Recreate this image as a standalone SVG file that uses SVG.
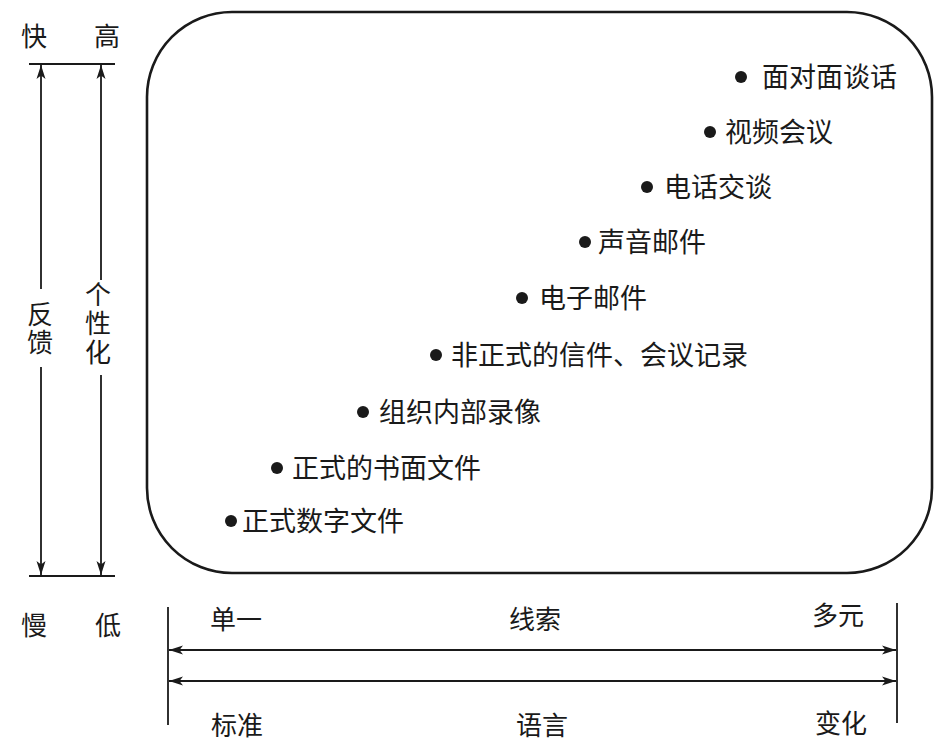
<svg xmlns="http://www.w3.org/2000/svg" width="945" height="754" viewBox="0 0 945 754">
  <style>
    text { font-family: "Noto Sans CJK SC", "Noto Sans", sans-serif; fill: #1a1a1a; }
    .item { font-size: 27px; }
    .axis { font-size: 26px; text-anchor: middle; }
    .vert { font-size: 26px; writing-mode: vertical-rl; }
    .dot { fill: #1a1a1a; }
    .ln { stroke: #1a1a1a; stroke-width: 1.8; fill: none; }
    .frame { stroke: #1a1a1a; stroke-width: 2.6; fill: none; }
  </style>
  <defs>
    <marker id="arrow" markerWidth="14" markerHeight="10" refX="14" refY="5" orient="auto-start-reverse" markerUnits="userSpaceOnUse">
      <path d="M0,0.5 L14,5 L0,9.5 L3.5,5 z" fill="#1a1a1a"/>
    </marker>
  </defs>

  <!-- rounded frame holding the channels -->
  <rect class="frame" x="147" y="12" width="785" height="561" rx="85" ry="85"/>

  <!-- vertical scales: feedback and personalisation -->
  <g id="scale-vertical">
    <line class="ln" x1="29" y1="64" x2="115" y2="64"/>
    <line class="ln" x1="29" y1="576" x2="115" y2="576"/>
    <line class="ln" x1="41" y1="289" x2="41" y2="65" marker-end="url(#arrow)"/>
    <line class="ln" x1="41" y1="367" x2="41" y2="575" marker-end="url(#arrow)"/>
    <line class="ln" x1="101" y1="280" x2="101" y2="65" marker-end="url(#arrow)"/>
    <line class="ln" x1="101" y1="375" x2="101" y2="575" marker-end="url(#arrow)"/>
    <text class="axis" x="34" y="46">快</text>
    <text class="axis" x="107" y="46">高</text>
    <text class="axis" x="34" y="635">慢</text>
    <text class="axis" x="108" y="635">低</text>
    <text class="vert" x="40" y="301" letter-spacing="2">反馈</text>
    <text class="vert" x="98" y="281" letter-spacing="3">个性化</text>
  </g>

  <!-- horizontal scales: cues and language -->
  <g id="scale-horizontal">
    <line class="ln" x1="168" y1="607" x2="168" y2="725"/>
    <line class="ln" x1="897" y1="603" x2="897" y2="723"/>
    <line class="ln" x1="169" y1="650" x2="896" y2="650" marker-start="url(#arrow)" marker-end="url(#arrow)"/>
    <line class="ln" x1="169" y1="681" x2="896" y2="681" marker-start="url(#arrow)" marker-end="url(#arrow)"/>
    <text class="axis" x="236" y="629">单一</text>
    <text class="axis" x="535" y="629">线索</text>
    <text class="axis" x="838" y="625">多元</text>
    <text class="axis" x="237" y="735">标准</text>
    <text class="axis" x="542" y="735">语言</text>
    <text class="axis" x="841" y="733">变化</text>
  </g>

  <!-- communication channels, richest at the top -->
  <g id="ch-face"><circle class="dot" cx="741" cy="77" r="6"/><text class="item" x="762" y="87">面对面谈话</text></g>
  <g id="ch-video"><circle class="dot" cx="710" cy="132" r="6"/><text class="item" x="725" y="142">视频会议</text></g>
  <g id="ch-phone"><circle class="dot" cx="647" cy="187" r="6"/><text class="item" x="664" y="197">电话交谈</text></g>
  <g id="ch-voicemail"><circle class="dot" cx="585" cy="242" r="6"/><text class="item" x="598" y="252">声音邮件</text></g>
  <g id="ch-email"><circle class="dot" cx="522" cy="298" r="6"/><text class="item" x="539" y="308">电子邮件</text></g>
  <g id="ch-informal"><circle class="dot" cx="436" cy="355" r="6"/><text class="item" x="451" y="365">非正式的信件、会议记录</text></g>
  <g id="ch-video-internal"><circle class="dot" cx="363" cy="412" r="6"/><text class="item" x="379" y="422">组织内部录像</text></g>
  <g id="ch-written"><circle class="dot" cx="277" cy="468" r="6"/><text class="item" x="292" y="478">正式的书面文件</text></g>
  <g id="ch-digital"><circle class="dot" cx="231" cy="521" r="6"/><text class="item" x="242" y="531">正式数字文件</text></g>
</svg>
